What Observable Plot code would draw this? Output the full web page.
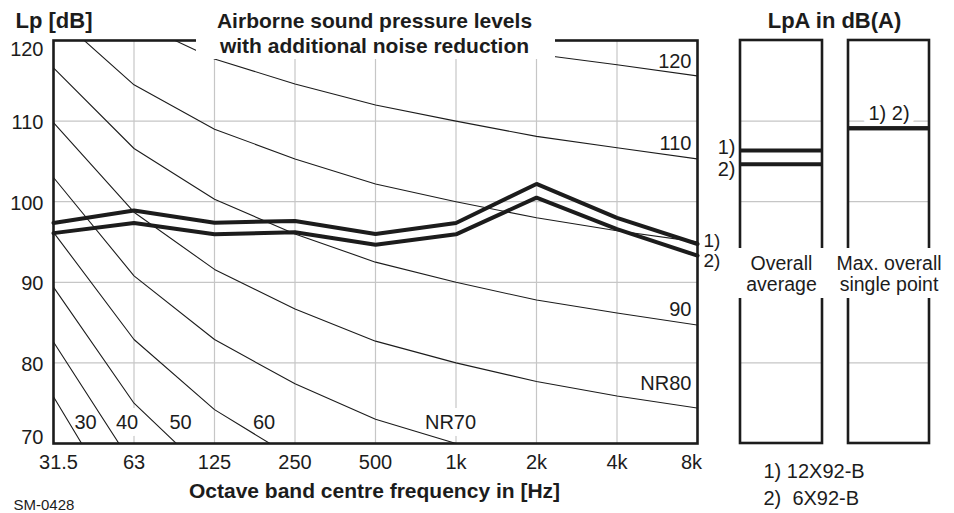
<!DOCTYPE html>
<html><head><meta charset="utf-8">
<script src="https://cdn.jsdelivr.net/npm/d3@7"></script>
<script src="https://cdn.jsdelivr.net/npm/@observablehq/plot@0.6"></script>
<style>
html,body{margin:0;padding:0;background:#fff;}
</style>
</head><body><div id="chart"></div>
<script>
// ---------------- data ----------------
const bands = ["31.5","63","125","250","500","1k","2k","4k","8k"];
const yTicks = [70, 80, 90, 100, 110, 120];
const seriesNames = ["1)", "2)"];
const series1 = [97.35, 98.9, 97.4, 97.6, 96.0, 97.35, 102.2, 98.0, 94.75];  // 1) 12X92-B
const series2 = [96.1, 97.35, 95.95, 96.2, 94.65, 95.95, 100.5, 96.6, 93.3];  // 2) 6X92-B
const legendLines = ["1) 12X92-B", "2)\u00a0 6X92-B"];
const panelNames = ["Overall\naverage", "Max. overall\nsingle point"];
const overallAverage = [106.35, 104.65];   // 1), 2)
const maxSinglePoint = [109.1, 109.1];     // 1), 2)
const maxLabel = "1) 2)";

const nrLevels = [30, 40, 50, 60, 70, 80, 90, 100, 110, 120];
const nr30  = [75.8, 59.2, 48.1, 40.0, 34.0, 30, 26.9, 24.7, 22.9];
const nr40  = [82.6, 67.1, 56.8, 49.6, 43.7, 40, 37.1, 34.9, 33.2];
const nr50  = [89.4, 75.0, 65.5, 58.8, 53.5, 50, 47.2, 45.2, 43.5];
const nr60  = [96.2, 82.9, 74.2, 68.1, 63.2, 60, 57.4, 55.4, 53.8];
const nr70  = [103.0, 90.8, 82.9, 77.4, 73.0, 70, 67.5, 65.7, 64.1];
const nr80  = [109.8, 98.7, 91.6, 86.7, 82.7, 80, 77.7, 75.9, 74.4];
const nr90  = [116.6, 106.6, 100.3, 96.0, 92.5, 90, 87.8, 86.2, 84.7];
const nr100 = [123.4, 114.5, 109.0, 105.3, 102.2, 100, 98.0, 96.4, 95.0];
const nr110 = [130.2, 122.4, 117.7, 114.6, 112.0, 110, 108.1, 106.7, 105.3];
const nr120 = [137.0, 130.3, 126.4, 123.9, 121.7, 120, 118.3, 117.0, 115.6];
const nrCurves = [nr30, nr40, nr50, nr60, nr70, nr80, nr90, nr100, nr110, nr120];
const nrLabelsLeft = ["30", "40", "50", "60", "NR70"];
const nrLabelsRight = ["NR80", "90", "110", "120"];

const titleText = "Airborne sound pressure levels\nwith additional noise reduction";
const yTitle = "Lp [dB]";
const xTitle = "Octave band centre frequency in [Hz]";
const panelTitle = "LpA in dB(A)";
const codeText = "SM-0428";

// ---------------- layout ----------------
const W = 954, H = 513, mL = 53, mR = 257, mT = 40, mB = 70;
const pxX = (W - mL - mR) / 8;      // px per octave
const pxY = (H - mT - mB) / 50;     // px per dB
const ux = px => (px - mL) / pxX;
const uy = py => 120 - (py - mT) / pxY;
const panels = [[ux(740), ux(822)], [ux(848), ux(929)]];
const leftLabelAt = [[85, 422.5], [126.5, 422.5], [180, 422.5], [263.5, 422.5], [450, 422.5]];
const rightLabelAt = [383.5, 309, 143.3, 60.8];

// ---------------- tables ----------------
const nrRows = [];
nrLevels.forEach((lv, k) => nrCurves[k].forEach((v, i) => nrRows.push({nr: lv, i, v})));
const seriesRows = [];
[series1, series2].forEach((arr, k) => arr.forEach((v, i) => seriesRows.push({s: seriesNames[k], i, v})));
const ink = "#1c1c1c";
const grid = "#c6c6c6";
const mid = bands.map((_, i) => i).slice(1, -1);
const leftLbl = nrLabelsLeft.map((t, k) => ({t, x: ux(leftLabelAt[k][0]), y: uy(leftLabelAt[k][1])}));
const rightLbl = nrLabelsRight.map((t, k) => ({t, y: uy(rightLabelAt[k])}));
const panelCenters = panels.map(p => (p[0] + p[1]) / 2);

const chart = Plot.plot({
  width: W, height: H,
  marginLeft: mL, marginRight: mR, marginTop: mT, marginBottom: mB,
  x: {domain: [0, 8], axis: null},
  y: {domain: [70, 120], axis: null},
  style: {fontFamily: "'Liberation Sans', Arial, sans-serif", background: "#fff", color: ink, overflow: "visible"},
  marks: [
    // grids
    Plot.ruleY([80, 90, 100, 110], {x1: 0, x2: 8, stroke: grid, strokeWidth: 1.2}),
    Plot.ruleX(mid, {x: d => d, y1: 70, y2: 120, stroke: grid, strokeWidth: 1.2}),
    ...panels.map(p => Plot.ruleY([80, 90, 100, 110], {x1: p[0], x2: p[1], stroke: grid, strokeWidth: 1.2})),
    // label halos
    Plot.text(leftLbl, {x: "x", y: "y", text: "t", fontSize: 20, fill: "#fff", stroke: "#fff", strokeWidth: 14, lineAnchor: "middle"}),
    Plot.text([maxSinglePoint[0]], {x: panelCenters[1], y: d => d, dy: -14.5, text: () => maxLabel, fontSize: 20, fill: "#fff", stroke: "#fff", strokeWidth: 12, lineAnchor: "middle"}),
    // NR curves
    Plot.line(nrRows, {x: "i", y: "v", z: "nr", stroke: ink, strokeWidth: 1.1, clip: true}),
    // frames
    Plot.frame({stroke: ink, strokeWidth: 2.6}),
    Plot.rect(panels, {x1: d => d[0], x2: d => d[1], y1: 70, y2: 120, fill: "none", stroke: ink, strokeWidth: 2.6}),
    // white boxes
    Plot.rect([0], {x1: ux(196), x2: ux(555), y1: uy(59), y2: uy(-2), fill: "#fff"}),
    Plot.rect([0], {x1: ux(733), x2: ux(937), y1: uy(298), y2: uy(248), fill: "#fff"}),
    // data lines
    Plot.line(seriesRows, {x: "i", y: "v", z: "s", stroke: ink, strokeWidth: 4, strokeLinejoin: "miter"}),
    Plot.ruleY(overallAverage, {x1: panels[0][0], x2: panels[0][1], stroke: ink, strokeWidth: 4}),
    Plot.ruleY(maxSinglePoint, {x1: panels[1][0], x2: panels[1][1], stroke: ink, strokeWidth: 4}),
    // series labels
    Plot.text([series1[8]], {x: 8, y: d => d, dx: 6, dy: -3, text: () => seriesNames[0], textAnchor: "start", fontSize: 19, lineAnchor: "middle"}),
    Plot.text([series2[8]], {x: 8, y: d => d, dx: 6, dy: 5, text: () => seriesNames[1], textAnchor: "start", fontSize: 19, lineAnchor: "middle"}),
    Plot.text([overallAverage[0]], {x: panels[0][0], y: d => d, dx: -5, dy: -3, text: () => seriesNames[0], textAnchor: "end", fontSize: 20, lineAnchor: "middle"}),
    Plot.text([overallAverage[1]], {x: panels[0][0], y: d => d, dx: -5, dy: 5, text: () => seriesNames[1], textAnchor: "end", fontSize: 20, lineAnchor: "middle"}),
    Plot.text([maxSinglePoint[0]], {x: panelCenters[1], y: d => d, dy: -14.5, text: () => maxLabel, fontSize: 20, lineAnchor: "middle"}),
    // NR labels
    Plot.text(leftLbl, {x: "x", y: "y", text: "t", fontSize: 20, lineAnchor: "middle"}),
    Plot.text(rightLbl, {x: 8, y: "y", text: "t", dx: -6, textAnchor: "end", fontSize: 20, lineAnchor: "middle"}),
    // panel names
    Plot.text(panelNames, {x: (d, i) => panelCenters[i], y: uy(273), text: d => d, fontSize: 19.5, lineHeight: 1.12, lineAnchor: "middle"}),
    // y tick labels
    Plot.text(yTicks.slice(1, -1), {x: 0, y: d => d, dx: -10, dy: 1.5, text: d => String(d), textAnchor: "end", fontSize: 20, lineAnchor: "middle"}),
    Plot.text([yTicks[yTicks.length - 1]], {x: 0, y: d => d, dx: -10, dy: 9.5, text: d => String(d), textAnchor: "end", fontSize: 20, lineAnchor: "middle"}),
    Plot.text([yTicks[0]], {x: 0, y: d => d, dx: -10, dy: -5.5, text: d => String(d), textAnchor: "end", fontSize: 20, lineAnchor: "middle"}),
    // x tick labels
    Plot.text(mid, {x: d => d, y: 70, dy: 19, text: d => bands[d], fontSize: 20, lineAnchor: "middle"}),
    Plot.text([0], {x: d => d, y: 70, dx: 5, dy: 19, text: d => bands[d], fontSize: 20, lineAnchor: "middle"}),
    Plot.text([8], {x: d => d, y: 70, dx: -6, dy: 19, text: d => bands[d], fontSize: 20, lineAnchor: "middle"}),
    // titles
    Plot.text([titleText], {frameAnchor: "top", dx: -1, dy: -8, text: d => d, textAnchor: "middle", fontSize: 21, fontWeight: "bold", lineHeight: 1.19, lineAnchor: "middle"}),
    Plot.text([yTitle], {frameAnchor: "top-left", dx: -38, dy: -20, text: d => d, textAnchor: "start", fontSize: 22, fontWeight: "bold", lineAnchor: "middle"}),
    Plot.text([panelTitle], {frameAnchor: "top-right", dx: 137, dy: -20, text: d => d, textAnchor: "middle", fontSize: 22, fontWeight: "bold", lineAnchor: "middle"}),
    Plot.text([xTitle], {frameAnchor: "bottom", dx: -1, dy: 47.5, text: d => d, textAnchor: "middle", fontSize: 21, fontWeight: "bold", lineAnchor: "middle"}),
    Plot.text([codeText], {frameAnchor: "bottom-left", dx: -40, dy: 62, text: d => d, textAnchor: "start", fontSize: 15, lineAnchor: "middle"}),
    Plot.text([legendLines.join("\n")], {frameAnchor: "bottom-right", dx: 66, dy: 39.5, text: d => d, textAnchor: "start", fontSize: 20, lineHeight: 1.35, lineAnchor: "middle"})
  ]
});
document.getElementById("chart").appendChild(chart);
</script>
</body></html>
